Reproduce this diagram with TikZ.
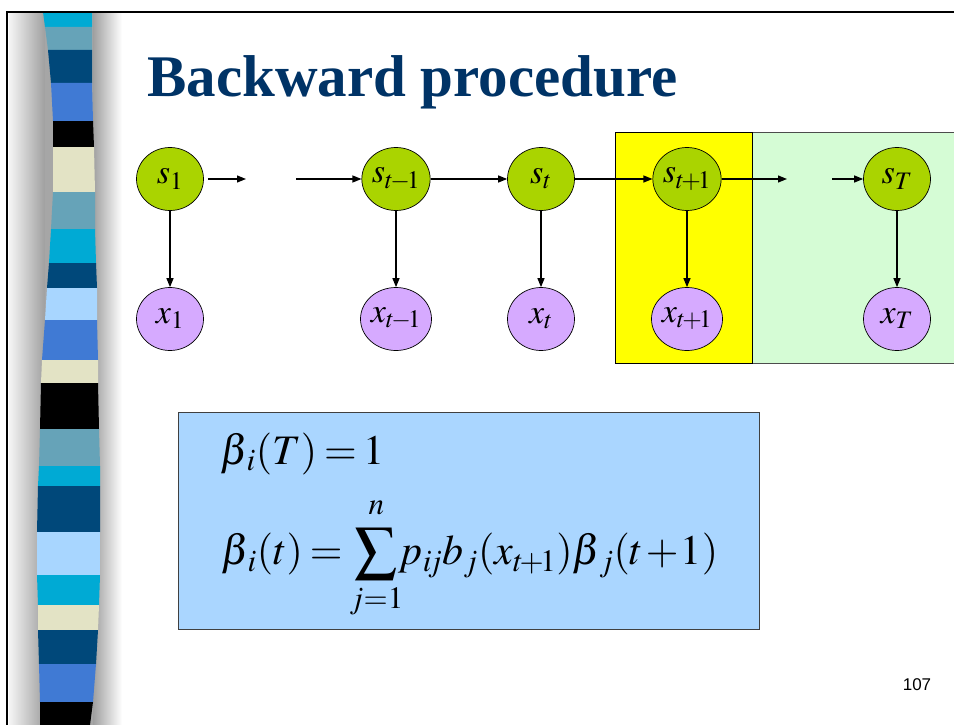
\documentclass[tikz,border=0pt]{standalone}
\usepackage{mathptmx}
\usepackage[no-math]{fontspec}
\setmainfont{Liberation Serif}
\newfontfamily\arialf{Liberation Sans}
\usetikzlibrary{shapes.geometric,arrows.meta}
\definecolor{cyanS}{RGB}{0,170,212}
\definecolor{steelS}{RGB}{102,163,184}
\definecolor{navyS}{RGB}{0,72,122}
\definecolor{medS}{RGB}{64,122,212}
\definecolor{beigeS}{RGB}{227,227,197}
\definecolor{lightS}{RGB}{168,214,255}
\definecolor{titleC}{RGB}{0,51,102}
\definecolor{sgreen}{RGB}{170,212,0}
\definecolor{xlav}{RGB}{214,170,255}
\definecolor{yel}{RGB}{255,255,0}
\definecolor{pgreen}{RGB}{213,252,213}
\definecolor{boxblue}{RGB}{170,214,255}
\tikzset{
  snode/.style={ellipse,draw=black,line width=0.7pt,fill=sgreen,minimum width=67pt,minimum height=63pt,inner sep=0pt,font=\fontsize{34}{40}\selectfont},
  xnode/.style={ellipse,draw=black,line width=0.7pt,fill=xlav,minimum width=67pt,minimum height=63pt,inner sep=0pt,font=\fontsize{34}{40}\selectfont},
  conn/.style={line width=1.2pt,-{Triangle[length=9pt,width=7pt]}},
  formula/.style={anchor=west,inner sep=0pt,font=\fontsize{42}{50}\selectfont},
}
\begin{document}
\begin{tikzpicture}[x=1pt,y=-1pt]
\useasboundingbox (0,0) rectangle (954,725);
\fill[white] (0,0) rectangle (954,725);
% gray cylinder shading
\shade[left color=gray!8,right color=gray!75] (9,13) rectangle (45,725);
\shade[left color=gray!75,right color=white] (93,13) rectangle (122,725);
\fill[gray!70] (45,13) rectangle (93,725);
% stripes
\fill[cyanS]  (43,12)--(92,12)--(92,27)--(45,27)--cycle;
\fill[steelS] (45,27)--(92,27)--(92,50)--(48,50)--cycle;
\fill[navyS]  (48,50)--(92,50)--(92,83)--(51,83)--cycle;
\fill[medS]   (51,83)--(92,83)--(93,121)--(53,121)--cycle;
\fill[black]  (53,121)--(93,121)--(94,147)--(53,147)--cycle;
\fill[beigeS] (53,147)--(94,147)--(95,192)--(53,192)--cycle;
\fill[steelS] (53,192)--(95,192)--(95,229)--(51,229)--cycle;
\fill[cyanS]  (51,229)--(95,229)--(96,263)--(49,263)--cycle;
\fill[navyS]  (49,263)--(96,263)--(97,288)--(47,288)--cycle;
\fill[lightS] (47,288)--(97,288)--(97,320)--(45,320)--cycle;
\fill[medS]   (45,320)--(97,320)--(98,360)--(42,360)--cycle;
\fill[beigeS] (42,360)--(98,360)--(98,383)--(41,383)--cycle;
\fill[black]  (41,383)--(98,383)--(99,429)--(40,429)--cycle;
\fill[steelS] (40,429)--(99,429)--(100,466)--(39,466)--cycle;
\fill[cyanS]  (39,466)--(100,466)--(100,486)--(38,486)--cycle;
\fill[navyS]  (38,486)--(100,486)--(100,532)--(37,532)--cycle;
\fill[lightS] (37,532)--(100,532)--(100,575)--(37,575)--cycle;
\fill[cyanS]  (37,575)--(100,575)--(99,605)--(38,605)--cycle;
\fill[beigeS] (38,605)--(99,605)--(98,630)--(38,630)--cycle;
\fill[navyS]  (38,630)--(98,630)--(96,664)--(39,664)--cycle;
\fill[medS]   (39,664)--(96,664)--(93,702)--(40,702)--cycle;
\fill[black]  (40,702)--(93,702)--(90,725)--(40,725)--cycle;
% frame
\draw[line width=2pt] (7,725) -- (7,12) -- (954,12);
% title
\node[anchor=base west,inner sep=0pt,text=titleC,font=\fontsize{59}{64}\bfseries\selectfont] (title) at (147,96) {Backward procedure};
% panels
\fill[pgreen] (752,132) rectangle (954,363);
\draw[gray!60!black,line width=0.8pt] (752,132) -- (954,132);
\draw[gray!60!black,line width=0.8pt] (752,363) -- (954,363);
\fill[yel] (615,132) rectangle (752,363);
\draw[black,line width=0.8pt] (615,132) rectangle (752,363);
% nodes
\node[snode] (s1) at (170,179) {$s_1$};
\node[snode] (stm) at (396,179) {$s_{t\!-\!1}$};
\node[snode] (st) at (541,179) {$s_t$};
\node[snode] (stp) at (687,179) {$s_{t\!+\!1}$};
\node[snode] (sT) at (897,179) {$s_T$};
\node[xnode] (x1) at (170,319) {$x_1$};
\node[xnode] (xtm) at (396,319) {$x_{t\!-\!1}$};
\node[xnode] (xt) at (541,319) {$x_t$};
\node[xnode] (xtp) at (687,319) {$x_{t\!+\!1}$};
\node[xnode] (xT) at (897,319) {$x_T$};
\coordinate (g1a) at (246,179);
\coordinate (g1b) at (296,179);
\coordinate (g2a) at (787,179);
\coordinate (g2b) at (832,179);
\draw[conn] (s1.east) ++(4,0) -- (g1a);
\draw[conn] (g1b) -- (stm);
\draw[conn] (stm) -- (st);
\draw[conn] (st) -- (stp);
\draw[conn] (stp) -- (g2a);
\draw[conn] (g2b) -- (sT);
\draw[conn] (s1) -- (x1);
\draw[conn] (stm) -- (xtm);
\draw[conn] (st) -- (xt);
\draw[conn] (stp) -- (xtp);
\draw[conn] (sT) -- (xT);
% formula box
\filldraw[draw=gray!50!black,line width=1pt,fill=boxblue] (178,412) rectangle (759,629);
\node[formula] (f1) at (220,454) {\thickmuskip=3mu\medmuskip=2mu$\beta_{\mkern2mu i}(T)=1$};
\node[formula] (f2) at (221,558) {\thickmuskip=3mu\medmuskip=1mu$\displaystyle\beta_{\mkern2mu i}(t)=\sum_{j=1}^{\raisebox{5pt}{$\scriptstyle n$}}\!\!p_{i\!j}b_j(x_{t\!+\!1})\beta_{\mkern2mu j}(t+1)$};
% page number
\node[font=\arialf\fontsize{17}{20}\selectfont,inner sep=0pt] (pg) at (917,685) {107};
\end{tikzpicture}
\end{document}
